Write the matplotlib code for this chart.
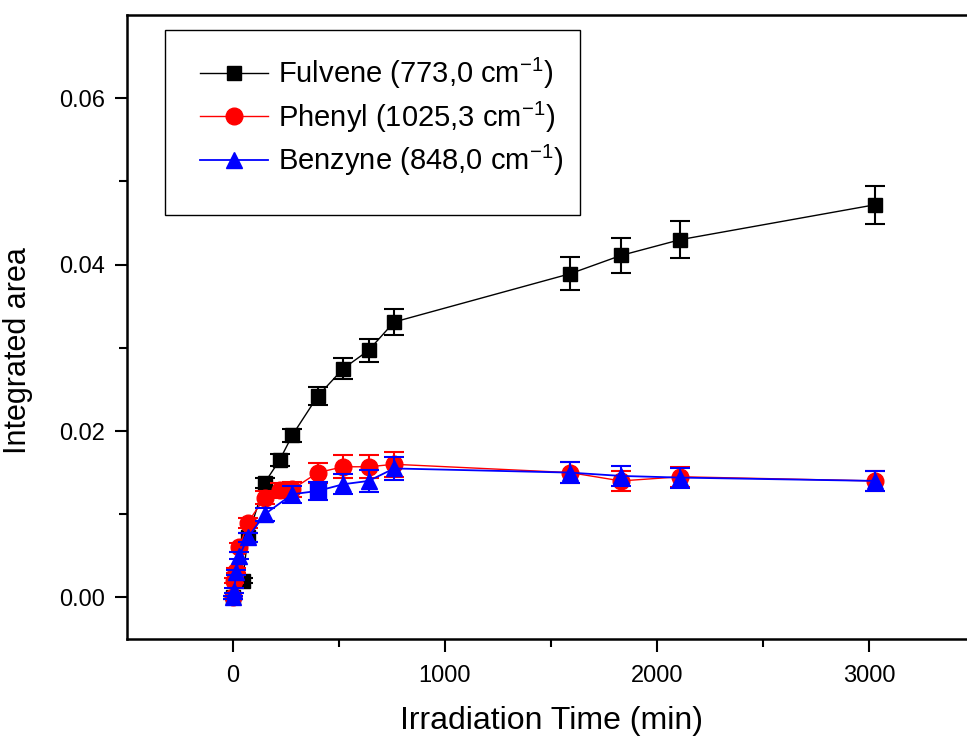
import numpy as np
import matplotlib
matplotlib.use("Agg")
import matplotlib.pyplot as plt
from matplotlib.lines import Line2D
from matplotlib.patches import Rectangle

plt.rcParams['font.family'] = ['Liberation Sans', 'DejaVu Sans']
plt.rcParams['mathtext.fontset'] = 'custom'
plt.rcParams['mathtext.rm'] = 'Liberation Sans'
plt.rcParams['mathtext.it'] = 'Liberation Sans'

# Fulvene (773,0 cm-1)
t_fulv = [0, 45, 70, 150, 220, 280, 400, 520, 640, 760, 1590, 1830, 2110, 3030]
a_fulv = [0.0, 0.0020, 0.0072, 0.0138, 0.0165, 0.0195, 0.0242, 0.0275, 0.0297, 0.0331,
          0.0389, 0.0411, 0.0430, 0.0472]
e_fulv = [0.0002, 0.0003, 0.0005, 0.0006, 0.0007, 0.0008, 0.0011, 0.0013, 0.0014, 0.0016,
          0.0020, 0.0021, 0.0022, 0.0023]

# Phenyl (1025,3 cm-1)
t_phen = [0, 5, 15, 30, 70, 150, 220, 280, 400, 520, 640, 760, 1590, 1830, 2110, 3030]
a_phen = [0.0, 0.0020, 0.0032, 0.0060, 0.0090, 0.0120, 0.0129, 0.0130, 0.0150, 0.0157,
          0.0157, 0.0160, 0.0150, 0.0140, 0.0145, 0.0140]
e_phen = [0.0002, 0.0003, 0.0003, 0.0005, 0.0006, 0.0008, 0.0009, 0.0009, 0.0012, 0.0014,
          0.0014, 0.0015, 0.0013, 0.0012, 0.0012, 0.0012]

# Benzyne (848,0 cm-1)
t_benz = [0, 5, 15, 30, 70, 150, 280, 400, 520, 640, 760, 1590, 1830, 2110, 3030]
a_benz = [0.0, 0.0008, 0.0030, 0.0050, 0.0072, 0.0100, 0.0124, 0.0128, 0.0136, 0.0140,
          0.0155, 0.0150, 0.0146, 0.0144, 0.0140]
e_benz = [0.0002, 0.0003, 0.0003, 0.0004, 0.0006, 0.0008, 0.0010, 0.0011, 0.0012, 0.0013,
          0.0014, 0.0013, 0.0012, 0.0012, 0.0012]
benz_square_idx = 7  # one point drawn as a square in the original

labels = ['Fulvene (773,0 cm$^{-1}$)', 'Phenyl (1025,3 cm$^{-1}$)', 'Benzyne (848,0 cm$^{-1}$)']

W, H = 967, 739
fig = plt.figure(figsize=(W / 100, H / 100), dpi=100)
ax = fig.add_axes([127/W, 100/H, 848/W, 624/H])

ax.errorbar(t_fulv, a_fulv, yerr=e_fulv, color='black', lw=1.0, marker='s', ms=10,
            capsize=7, capthick=1.5, elinewidth=1.5, zorder=3)
ax.errorbar(t_phen, a_phen, yerr=e_phen, color='red', lw=1.0, marker='o', ms=12,
            capsize=7, capthick=1.5, elinewidth=1.5, zorder=4)

mk = ['^'] * len(t_benz)
mk[benz_square_idx] = 's'
ax.errorbar(t_benz, a_benz, yerr=e_benz, color='blue', lw=1.3, fmt='-',
            capsize=7, capthick=1.5, elinewidth=1.5, zorder=5)
for x, y, m in zip(t_benz, a_benz, mk):
    ax.plot(x, y, marker=m, color='blue', ms=12 if m == '^' else 11, ls='none', zorder=6)

ax.set_xlim(-500, 3500)
ax.set_ylim(-0.005, 0.07)
ax.set_xticks([0, 1000, 2000, 3000])
ax.set_xticks([500, 1500, 2500], minor=True)
ax.set_yticks([0.0, 0.02, 0.04, 0.06])
ax.set_yticks([0.01, 0.03, 0.05], minor=True)
ax.set_yticklabels(['0.00', '0.02', '0.04', '0.06'])

ax.tick_params(which='major', direction='out', length=9, width=1.5, labelsize=17)
ax.tick_params(axis='x', which='major', pad=10)
ax.tick_params(axis='y', which='major', pad=7)
ax.tick_params(which='minor', direction='out', length=6, width=1.5)
for s in ax.spines.values():
    s.set_linewidth(1.8)

ax.set_xlabel('Irradiation Time (min)', fontsize=23)
ax.set_ylabel('Integrated area', fontsize=22)
ax.xaxis.set_label_coords(0.5, -0.108)
ax.yaxis.set_label_coords(-0.111, 0.463)

# legend box (frame drawn separately so the entries can sit high in it)
ax.add_patch(Rectangle((165/W, 1 - 215/H), 415/W, 185/H, transform=fig.transFigure,
                       facecolor='white', edgecolor='black', lw=1.0, zorder=8, clip_on=False))
handles = [
    Line2D([], [], color='black', lw=1.0, marker='s', ms=10),
    Line2D([], [], color='red', lw=1.0, marker='o', ms=12),
    Line2D([], [], color='blue', lw=1.3, marker='^', ms=12),
]
leg = ax.legend(handles, labels, loc='upper left', bbox_to_anchor=(200/W, 1 - 56/H),
                bbox_transform=fig.transFigure, borderaxespad=0, borderpad=0, fontsize=21,
                frameon=False, handlelength=2.33, handletextpad=0.34, labelspacing=0.28)
leg.set_zorder(10)

fig.savefig('out.png', dpi=100)
